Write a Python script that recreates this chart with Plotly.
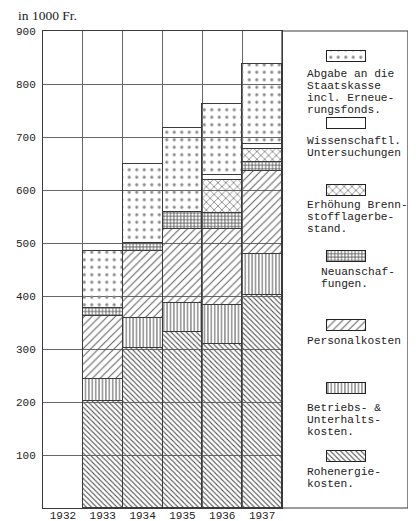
import plotly.graph_objects as go

# ---------------- data (in 1000 Fr.) ----------------
years = [1933, 1934, 1935, 1936, 1937]
tick_years = [1932, 1933, 1934, 1935, 1936, 1937]
y_ticks = [100, 200, 300, 400, 500, 600, 700, 800, 900]

rohenergie = [202, 301, 333, 310, 402]
betrieb = [41, 57, 54, 73, 78]
personal = [120, 126, 139, 143, 155]
neuanschaffungen = [14, 16, 33, 31, 17]
brennstoff = [0, 0, 0, 62, 25]
wissenschaft = [0, 0, 0, 9, 10]
abgabe = [108, 150, 158, 134, 150]

series_names = [
    "Rohenergiekosten",
    "Betriebs- & Unterhaltskosten",
    "Personalkosten",
    "Neuanschaffungen",
    "Erhöhung Brennstofflagerbestand",
    "Wissenschaftl. Untersuchungen",
    "Abgabe an die Staatskasse incl. Erneuerungsfonds",
]
series_values = [rohenergie, betrieb, personal, neuanschaffungen,
                 brennstoff, wissenschaft, abgabe]

# legend labels (one list of lines per series, same order)
legend_lines = [
    ["Rohenergie-", "kosten."],
    ["Betriebs- &", "Unterhalts-", "kosten."],
    ["Personalkosten"],
    ["Neuanschaf-", "fungen."],
    ["Erhöhung Brenn-", "stofflagerbe-", "stand."],
    ["Wissenschaftl.", "Untersuchungen"],
    ["Abgabe an die", "Staatskasse", "incl. Erneue-", "rungsfonds."],
]

# ---------------- styles ----------------
INK = "#3a3a3a"
PAT = "#5a5a5a"
MONO = "Liberation Mono, DejaVu Sans Mono, monospace"
patterns = [
    dict(shape="\\", size=3.6, solidity=0.3, color=PAT),
    dict(shape="|", size=3.4, solidity=0.3, color=PAT),
    dict(shape="/", size=5.5, solidity=0.18, color=PAT),
    dict(shape="+", size=3.4, solidity=0.45, color=PAT),
    dict(shape="x", size=5.5, solidity=0.22, color=PAT),
    dict(shape="", size=8, solidity=0.2, color=PAT),
    dict(shape=".", size=7.5, solidity=0.14, color="#8a8a8a"),
]
# the page body adds an 8 px offset; figure coordinates compensate for it
OFF = 8
L, T, B = 43 - OFF, 31 - OFF, 508 - OFF   # plot area (figure px)
RIGHT = 408 - OFF
PLOT_W = RIGHT - L
PLOT_H = B - T
MAIN_RIGHT = (282 - OFF - L) / PLOT_W

# legend layout (page-pixel units of the legend sub-axes)
swatch_centers = [456, 388, 325, 256, 190, 123, 56]
text_first_line = [472, 407.5, 340.5, 272, 205, 140.5, 74.3]
text_left = [-21, -21, -21, -7, -21, -21, -21]
LINE_H = 12
SW_W, SW_H = 39, 11

fig = go.Figure()

for name, vals, pat in zip(series_names, series_values, patterns):
    fig.add_trace(go.Bar(
        x=years, y=vals, name=name, width=1.0,
        marker=dict(color="rgba(255,255,255,0)",
                    line=dict(color=INK, width=1),
                    pattern=dict(shape=pat["shape"], size=pat["size"],
                                 solidity=pat["solidity"], fgcolor=pat["color"],
                                 bgcolor="rgba(255,255,255,0)",
                                 fillmode="replace")),
        showlegend=False, xaxis="x", yaxis="y",
    ))

# legend swatches (horizontal bars on hidden sub-axes)
for i, pat in enumerate(patterns):
    fig.add_trace(go.Bar(
        y=[swatch_centers[i]], x=[SW_W], orientation="h", width=SW_H,
        marker=dict(color="rgba(255,255,255,0)",
                    line=dict(color="#222", width=1.2),
                    pattern=dict(shape=pat["shape"], size=pat["size"],
                                 solidity=pat["solidity"], fgcolor=pat["color"],
                                 bgcolor="rgba(255,255,255,0)",
                                 fillmode="replace")),
        showlegend=False, hoverinfo="skip", xaxis="x2", yaxis="y2",
        cliponaxis=False,
    ))

annotations = []
for i, lines in enumerate(legend_lines):
    for j, line in enumerate(lines):
        annotations.append(dict(
            x=text_left[i], y=text_first_line[i] + j * LINE_H,
            xref="x2", yref="y2", text=line, showarrow=False,
            xanchor="left", yanchor="middle", borderpad=0,
            font=dict(family=MONO, size=11.2, color="#222")))

annotations.append(dict(
    x=(17 - OFF - L) / PLOT_W, y=1 + (T - (15 - OFF)) / PLOT_H,
    xref="paper", yref="paper",
    text="in 1000 Fr.", showarrow=False, xanchor="left", yanchor="middle",
    borderpad=0,
    font=dict(family="Liberation Serif, serif", size=13.5, color="#222")))

fig.update_layout(
    width=416, height=521,
    margin=dict(l=L, r=416 - RIGHT, t=T, b=521 - B, autoexpand=False),
    paper_bgcolor="white", plot_bgcolor="rgba(0,0,0,0)",
    barmode="stack", bargap=0,
    showlegend=False,
    annotations=annotations,
    xaxis=dict(domain=[0, MAIN_RIGHT], range=[1931.5, 1937.5],
               tickmode="array", tickvals=tick_years,
               ticktext=[str(y) for y in tick_years],
               showgrid=False, zeroline=False, automargin=False,
               showline=True, linecolor=INK, linewidth=1, mirror=True,
               ticks="", ticklabelstandoff=-3,
               tickfont=dict(family=MONO, size=11, color="#222"),
               minor=dict(tick0=1931.5, dtick=1, showgrid=True,
                          gridcolor="#666", gridwidth=1, ticks=""),
               fixedrange=True),
    yaxis=dict(domain=[0, 1], range=[0, 900],
               tickmode="array", tickvals=y_ticks,
               ticktext=[str(v) for v in y_ticks],
               showgrid=True, gridcolor="#666", gridwidth=1,
               zeroline=False, showline=True, linecolor=INK, linewidth=1,
               mirror=True, ticks="", ticklabelstandoff=4, automargin=False,
               tickfont=dict(family=MONO, size=11, color="#222"),
               fixedrange=True),
    xaxis2=dict(domain=[MAIN_RIGHT, 1], range=[282 - 327, 408 - 327],
                anchor="y2", visible=False, fixedrange=True, automargin=False),
    yaxis2=dict(domain=[0, 1], range=[508, 31], anchor="x2",
                visible=False, fixedrange=True, automargin=False),
    shapes=[dict(type="rect", xref="paper", yref="paper",
                 x0=MAIN_RIGHT, x1=1, y0=0, y1=1,
                 line=dict(color=INK, width=1.2))],
)

fig.write_html("out.html")
